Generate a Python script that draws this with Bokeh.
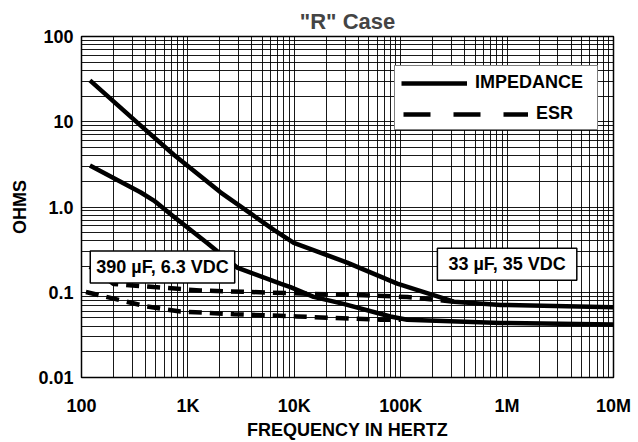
from bokeh.plotting import figure
from bokeh.models import FixedTicker, Legend, LegendItem, Label, Range1d
from bokeh.embed import file_html
from bokeh.resources import INLINE

# ---- tick values / labels ----
x_ticks = [100, 1000, 10000, 100000, 1000000, 10000000]
x_tick_labels = ["100", "1K", "10K", "100K", "1M", "10M"]
y_ticks = [0.01, 0.1, 1.0, 10.0, 100.0]
y_tick_labels = ["0.01", "0.1", "1.0", "10", "100"]

# ---- 33 uF, 35 VDC ----
f_imp_33 = [120, 358, 737, 2025, 6416, 9892, 31400, 92700, 316000, 870000, 10000000]
z_imp_33 = [30.6, 9.07, 4.10, 1.487, 0.540, 0.379, 0.223, 0.126, 0.0775, 0.071, 0.0667]
f_esr_33 = [120, 200, 480, 1300, 11500, 45000, 115000, 316000]
z_esr_33 = [0.20, 0.125, 0.115, 0.105, 0.0966, 0.0925, 0.088, 0.0775]

# ---- 390 uF, 6.3 VDC ----
f_imp_390 = [120, 358, 479, 737, 1517, 2900, 7400, 9200, 15200, 29000, 80000, 115000, 870000, 10000000]
z_imp_390 = [3.06, 1.49, 1.19, 0.767, 0.379, 0.195, 0.126, 0.115, 0.0883, 0.073, 0.052, 0.0476, 0.0436, 0.0418]
f_esr_390 = [110, 414, 851, 2700, 10600, 64600, 100000]
z_esr_390 = [0.1006, 0.068, 0.0594, 0.0553, 0.052, 0.0476, 0.0476]

series_labels = ["IMPEDANCE", "ESR"]
box_labels = ["390 µF, 6.3 VDC", "33 µF, 35 VDC"]
box_anchor_f = [577, 1000000]
box_anchor_z = [0.198, 0.2125]

FONT = "Liberation Sans"

p = figure(width=638, height=442, x_axis_type="log", y_axis_type="log",
           x_range=Range1d(100, 1e7), y_range=Range1d(0.01, 100),
           output_backend="svg", toolbar_location=None, title='"R" Case',
           min_border_left=81, min_border_right=25, min_border_top=36, min_border_bottom=58)

p.background_fill_color = "white"
p.border_fill_color = "white"
p.outline_line_color = "black"
p.outline_line_width = 1.5

p.title.text_font = FONT
p.title.text_font_size = "22px"
p.title.text_font_style = "bold"
p.title.align = "center"
p.title.standoff = 5

x_minor = [m * 10 ** e for e in range(2, 7) for m in range(2, 10)]
y_minor = [m * 10.0 ** e for e in range(-2, 2) for m in range(2, 10)]
p.xaxis.ticker = FixedTicker(ticks=x_ticks, minor_ticks=x_minor)
p.yaxis.ticker = FixedTicker(ticks=y_ticks, minor_ticks=y_minor)
p.xaxis.major_label_overrides = {float(t): l for t, l in zip(x_ticks, x_tick_labels)}
p.yaxis.major_label_overrides = {float(t): l for t, l in zip(y_ticks, y_tick_labels)}

for ax in (p.xaxis, p.yaxis):
    ax.axis_line_color = None
    ax.major_tick_line_color = None
    ax.minor_tick_line_color = None
    ax.major_tick_out = 0
    ax.major_tick_in = 0
    ax.major_label_text_font = FONT
    ax.major_label_text_font_size = "18px"
    ax.major_label_text_font_style = "bold"
    ax.major_label_text_color = "black"
    ax.axis_label_text_font = FONT
    ax.axis_label_text_font_size = "18px"
    ax.axis_label_text_font_style = "bold"
    ax.axis_label_text_color = "black"

p.xaxis.axis_label = "FREQUENCY IN HERTZ"
p.yaxis.axis_label = "OHMS"
p.xaxis.major_label_standoff = 14
p.xaxis.axis_label_standoff = 1
p.yaxis.major_label_standoff = 4
p.yaxis.axis_label_standoff = 5

for g in (p.xgrid, p.ygrid):
    g.grid_line_color = "black"
    g.grid_line_width = 1
    g.grid_line_alpha = 0.9
    g.minor_grid_line_color = "black"
    g.minor_grid_line_width = 1
    g.minor_grid_line_alpha = 0.9

LW = 4.5
r_imp33 = p.line(f_imp_33, z_imp_33, line_width=LW, line_color="black", line_join="round")
r_imp390 = p.line(f_imp_390, z_imp_390, line_width=LW, line_color="black", line_join="round")
r_esr33 = p.line(f_esr_33, z_esr_33, line_width=LW, line_color="black", line_dash="13 8")
r_esr390 = p.line(f_esr_390, z_esr_390, line_width=LW, line_color="black", line_dash="13 8")

# legend-only renderers (hidden in the plot)
r_leg_esr = p.line(f_esr_33, z_esr_33, line_width=LW, line_color="black", line_dash="27 23", visible=False)
r_leg_blank = p.line(f_esr_33, z_esr_33, line_alpha=0, visible=False)

leg1 = Legend(items=[LegendItem(label=series_labels[0], renderers=[r_imp33]),
                     LegendItem(label=" ", renderers=[r_leg_blank])],
              location=(313, 247), padding=6, spacing=10, glyph_width=66, glyph_height=20,
              label_height=20, label_width=116, label_standoff=8,
              border_line_color="black", border_line_width=1.5,
              background_fill_color="white", background_fill_alpha=1.0,
              label_text_font=FONT, label_text_font_size="18px", label_text_font_style="bold",
              label_text_color="black")
leg2 = Legend(items=[LegendItem(label=series_labels[1], renderers=[r_leg_esr])],
              location=(322, 253), padding=0, spacing=0, glyph_width=125, glyph_height=20,
              label_height=20, label_standoff=8,
              border_line_alpha=0, background_fill_alpha=0,
              label_text_font=FONT, label_text_font_size="18px", label_text_font_style="bold",
              label_text_color="black")
p.add_layout(leg1)
p.add_layout(leg2)

for txt, fx, zy, pad in zip(box_labels, box_anchor_f, box_anchor_z, [(6, 6), (11, 6)]):
    p.add_layout(Label(x=fx, y=zy, text=txt, text_align="center", text_baseline="middle",
                       text_font=FONT, text_font_size="18px", text_font_style="bold",
                       text_color="black", background_fill_color="white",
                       border_line_color="black", border_line_width=1.5, padding=pad))

open("out.html", "w").write(file_html(p, INLINE))
